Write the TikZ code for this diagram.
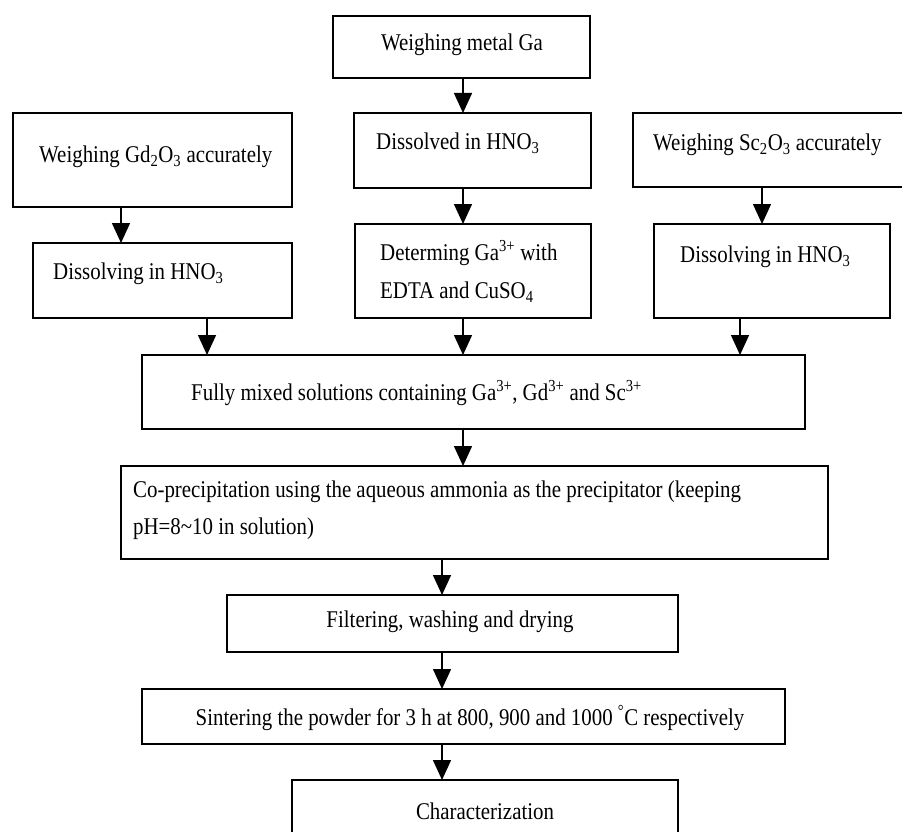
\documentclass[tikz,border=0pt]{standalone}
\usepackage{fontspec}
\setmainfont{Liberation Serif}[FakeStretch=0.87]
\usetikzlibrary{arrows.meta}
\begin{document}
\begin{tikzpicture}[x=1pt,y=-1pt,
  box/.style={draw, line width=1.5pt, inner sep=0pt, outer sep=0pt},
  txt/.style={inner sep=0pt, font=\fontsize{24}{37.5}\selectfont, align=left},
  arr/.style={line width=1.5pt, -{Triangle[width=18pt,length=20pt]}}]
\useasboundingbox (0,0) rectangle (902,832);
% boxes
\node[box, minimum width=257pt, minimum height=62pt] (top) at (461.5,47) {};
\node[box, minimum width=279pt, minimum height=94pt] (g1) at (152.5,160) {};
\node[box, minimum width=259pt, minimum height=75pt] (g2) at (162.5,280.5) {};
\node[box, minimum width=237pt, minimum height=75pt] (m2) at (472.5,150.5) {};
\node[box, minimum width=236pt, minimum height=94pt] (m3) at (473,271) {};
\node[box, minimum width=275pt, minimum height=74pt] (s1) at (770.5,150) {};
\node[box, minimum width=236pt, minimum height=94pt] (s2) at (772,271) {};
\node[box, minimum width=663pt, minimum height=74pt] (mix) at (473.5,392) {};
\node[box, minimum width=707pt, minimum height=93pt] (cop) at (474.5,512.5) {};
\node[box, minimum width=451pt, minimum height=57pt] (fil) at (452.5,623.5) {};
\node[box, minimum width=643pt, minimum height=55pt] (sin) at (463.5,716.5) {};
\node[box, minimum width=386pt, minimum height=80pt] (cha) at (485,820) {};
% texts
\node[txt] (ttop) at (462,45) {Weighing metal Ga};
\node[txt, anchor=west] (tg1) at (39,157) {Weighing Gd\textsubscript{2}O\textsubscript{3} accurately};
\node[txt, anchor=west] (tg2) at (53,274) {Dissolving in HNO\textsubscript{3}};
\node[txt, anchor=west] (tm2) at (376,143) {Dissolved in HNO\textsubscript{3}};
\node[txt, anchor=west] (tm3) at (380,271.5) {Determing Ga\textsuperscript{3+} with\\EDTA and CuSO\textsubscript{4}};
\node[txt, anchor=west] (ts1) at (653,145) {Weighing Sc\textsubscript{2}O\textsubscript{3} accurately};
\node[txt, anchor=west] (ts2) at (680,257) {Dissolving in HNO\textsubscript{3}};
\node[txt, anchor=west] (tmix) at (191,393) {Fully mixed solutions containing Ga\textsuperscript{3+}, Gd\textsuperscript{3+} and Sc\textsuperscript{3+}};
\node[txt, anchor=west] (tcop) at (133,510) {Co-precipitation using the aqueous ammonia as the precipitator (keeping\\pH=8\textasciitilde10 in solution)};
\node[txt] (tfil) at (450,622) {Filtering, washing and drying};
\node[txt] (tsin) at (470,718) {Sintering the powder for 3 h at 800, 900 and 1000 \textsuperscript{\textdegree}C respectively};
\node[txt] (tcha) at (485,811) {Characterization};
% arrow columns
\coordinate (xa) at (463,0);
\coordinate (xl) at (121,0);
\coordinate (xr) at (762,0);
\coordinate (xgl) at (207,0);
\coordinate (xsr) at (740,0);
\coordinate (xb) at (442,0);
% connectors
\draw[arr] (top.south -| xa) -- (m2.north -| xa);
\draw[arr] (m2.south -| xa) -- (m3.north -| xa);
\draw[arr] (g1.south -| xl) -- (g2.north -| xl);
\draw[arr] (s1.south -| xr) -- (s2.north -| xr);
\draw[arr] (g2.south -| xgl) -- (mix.north -| xgl);
\draw[arr] (m3.south -| xa) -- (mix.north -| xa);
\draw[arr] (s2.south -| xsr) -- (mix.north -| xsr);
\draw[arr] (mix.south -| xa) -- (cop.north -| xa);
\draw[arr] (cop.south -| xb) -- (fil.north -| xb);
\draw[arr] (fil.south -| xb) -- (sin.north -| xb);
\draw[arr] (sin.south -| xb) -- (cha.north -| xb);
\end{tikzpicture}
\end{document}
